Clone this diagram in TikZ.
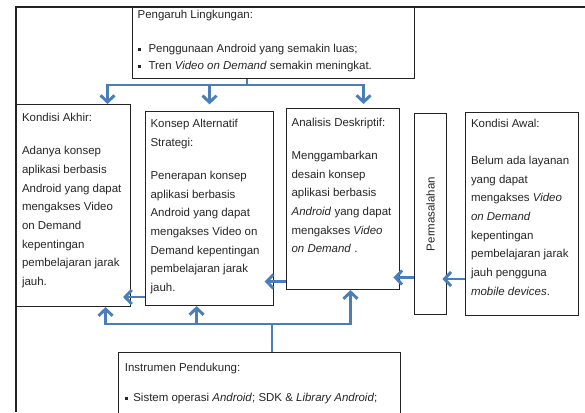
\documentclass[tikz,border=0pt]{standalone}
\usepackage{fontspec}
\setmainfont{Liberation Sans}
\usepackage{tikz}
\usetikzlibrary{arrows.meta,positioning}
\definecolor{arrowBlue}{RGB}{74,126,187}
\definecolor{lineGray}{RGB}{35,35,35}
\newcommand{\sqbul}{\rule[1.3pt]{2.5pt}{2.5pt}}

\begin{document}
\begin{tikzpicture}[x=0.75pt,y=-0.75pt,
  font=\fontsize{8.6}{14}\selectfont,
  box/.style={draw=lineGray, line width=0.8pt, anchor=north west, inner sep=0pt},
  txt/.style={align=left, inner sep=0pt, text=black!85},
  bullettxt/.style={txt, font=\fontsize{8.6}{12.5}\selectfont},
  arr/.style={-{Straight Barb[length=5pt,width=10.5pt]}, line width=2.2pt, arrowBlue},
  bus/.style={line width=2.2pt, arrowBlue},
  frame/.style={draw=lineGray, line width=0.8pt}
]
\useasboundingbox (0,0) rectangle (585,412);

% outer frame
\draw[frame] (16,412) -- (16,7) -- (585,7);
\draw[lineGray, line width=2pt] (16,85) -- (16,95);

% boxes
\node[box, minimum width=211.5pt, minimum height=53.25pt] (env) at (132,7) {};
\node[box, minimum width=85.5pt, minimum height=151.5pt] (akhir) at (16,104) {};
\node[box, minimum width=96pt, minimum height=145.5pt] (strategi) at (145,111) {};
\node[box, minimum width=84.75pt, minimum height=135.75pt] (analisis) at (286,108) {};
\node[box, minimum width=24pt, minimum height=150.75pt] (masalah) at (414,113) {};
\node[box, minimum width=84.75pt, minimum height=152.25pt] (awal) at (465,112) {};
\node[box, minimum width=211.5pt, minimum height=60pt] (instr) at (118,352) {};

% texts
\node[bullettxt, below right=2.3pt and 4pt of env.north west] (envTxt)
  {Pengaruh Lingkungan:\\[13.2pt]
   \sqbul\hspace{5.7pt}Penggunaan Android yang semakin luas;\\
   \sqbul\hspace{5.7pt}Tren \textit{Video on Demand} semakin meningkat.};
\node[txt, below right=6.75pt and 4.3pt of akhir.north west] (akhirTxt)
  {Kondisi Akhir:\\[11pt]
   Adanya konsep\\aplikasi berbasis\\Android yang dapat\\mengakses Video\\
   on Demand\\kepentingan\\pembelajaran jarak\\jauh.};
\node[txt, below right=6pt and 4pt of strategi.north west] (strategiTxt)
  {Konsep Alternatif\\Strategi:\\[11pt]
   Penerapan konsep\\aplikasi berbasis\\Android yang dapat\\mengakses Video on\\
   Demand kepentingan\\pembelajaran jarak\\jauh.};
\node[txt, below right=7.3pt and 4pt of analisis.north west] (analisisTxt)
  {Analisis Deskriptif:\\[11pt]
   Menggambarkan\\desain konsep\\aplikasi berbasis\\\textit{Android} yang dapat\\
   mengakses \textit{Video}\\\textit{on Demand} .};
\node[txt, rotate=90] (masalahTxt) at (masalah.center) {Permasalahan};
\node[txt, below right=5.2pt and 4.3pt of awal.north west] (awalTxt)
  {Kondisi Awal:\\[13.7pt]
   Belum ada layanan\\yang dapat\\mengakses \textit{Video}\\\textit{on Demand}\\
   kepentingan\\pembelajaran jarak\\jauh pengguna\\\textit{mobile devices}.};
\node[bullettxt, below right=8.5pt and 5pt of instr.north west] (instrTxt)
  {Instrumen Pendukung:\\[10pt]
   \sqbul\hspace{3.8pt}Sistem operasi \textit{Android}; SDK \& \textit{Library Android};};

% connectors
\coordinate (busT) at (247,85);
\coordinate (busB) at (272,324);
\coordinate (rowA) at (0,279);
\coordinate (rowB) at (0,277.5);
\coordinate (rowC) at (0,281.5);
\coordinate (rowD) at (0,297);

\draw[bus] (env.south -| busT) -- (busT);
\draw[arr] (busT) -| ([xshift=25.5pt]akhir.north);
\draw[arr, shorten >=5pt] (busT) -| (strategi.north);
\draw[arr, shorten >=3pt] (busT) -| ([xshift=15.4pt]analisis.north);

\draw[bus] (instr.north -| busB) -- (busB);
\draw[arr] (busB) -| ([xshift=24pt]akhir.south);
\draw[arr] (busB) -| ([xshift=-9.75pt]strategi.south);
\draw[arr] (busB) -| ([xshift=5.6pt]analisis.south);

\draw[arr, shorten >=-3.5pt] (awal.west |- rowA) -- (masalah.east |- rowA);
\draw[arr, shorten >=-5pt] (masalah.west |- rowB) -- (analisis.east |- rowB);
\draw[arr, shorten >=-7pt] (analisis.west |- rowC) -- (strategi.east |- rowC);
\draw[arr, shorten >=-6pt] (strategi.west |- rowD) -- (akhir.east |- rowD);

\end{tikzpicture}
\end{document}
